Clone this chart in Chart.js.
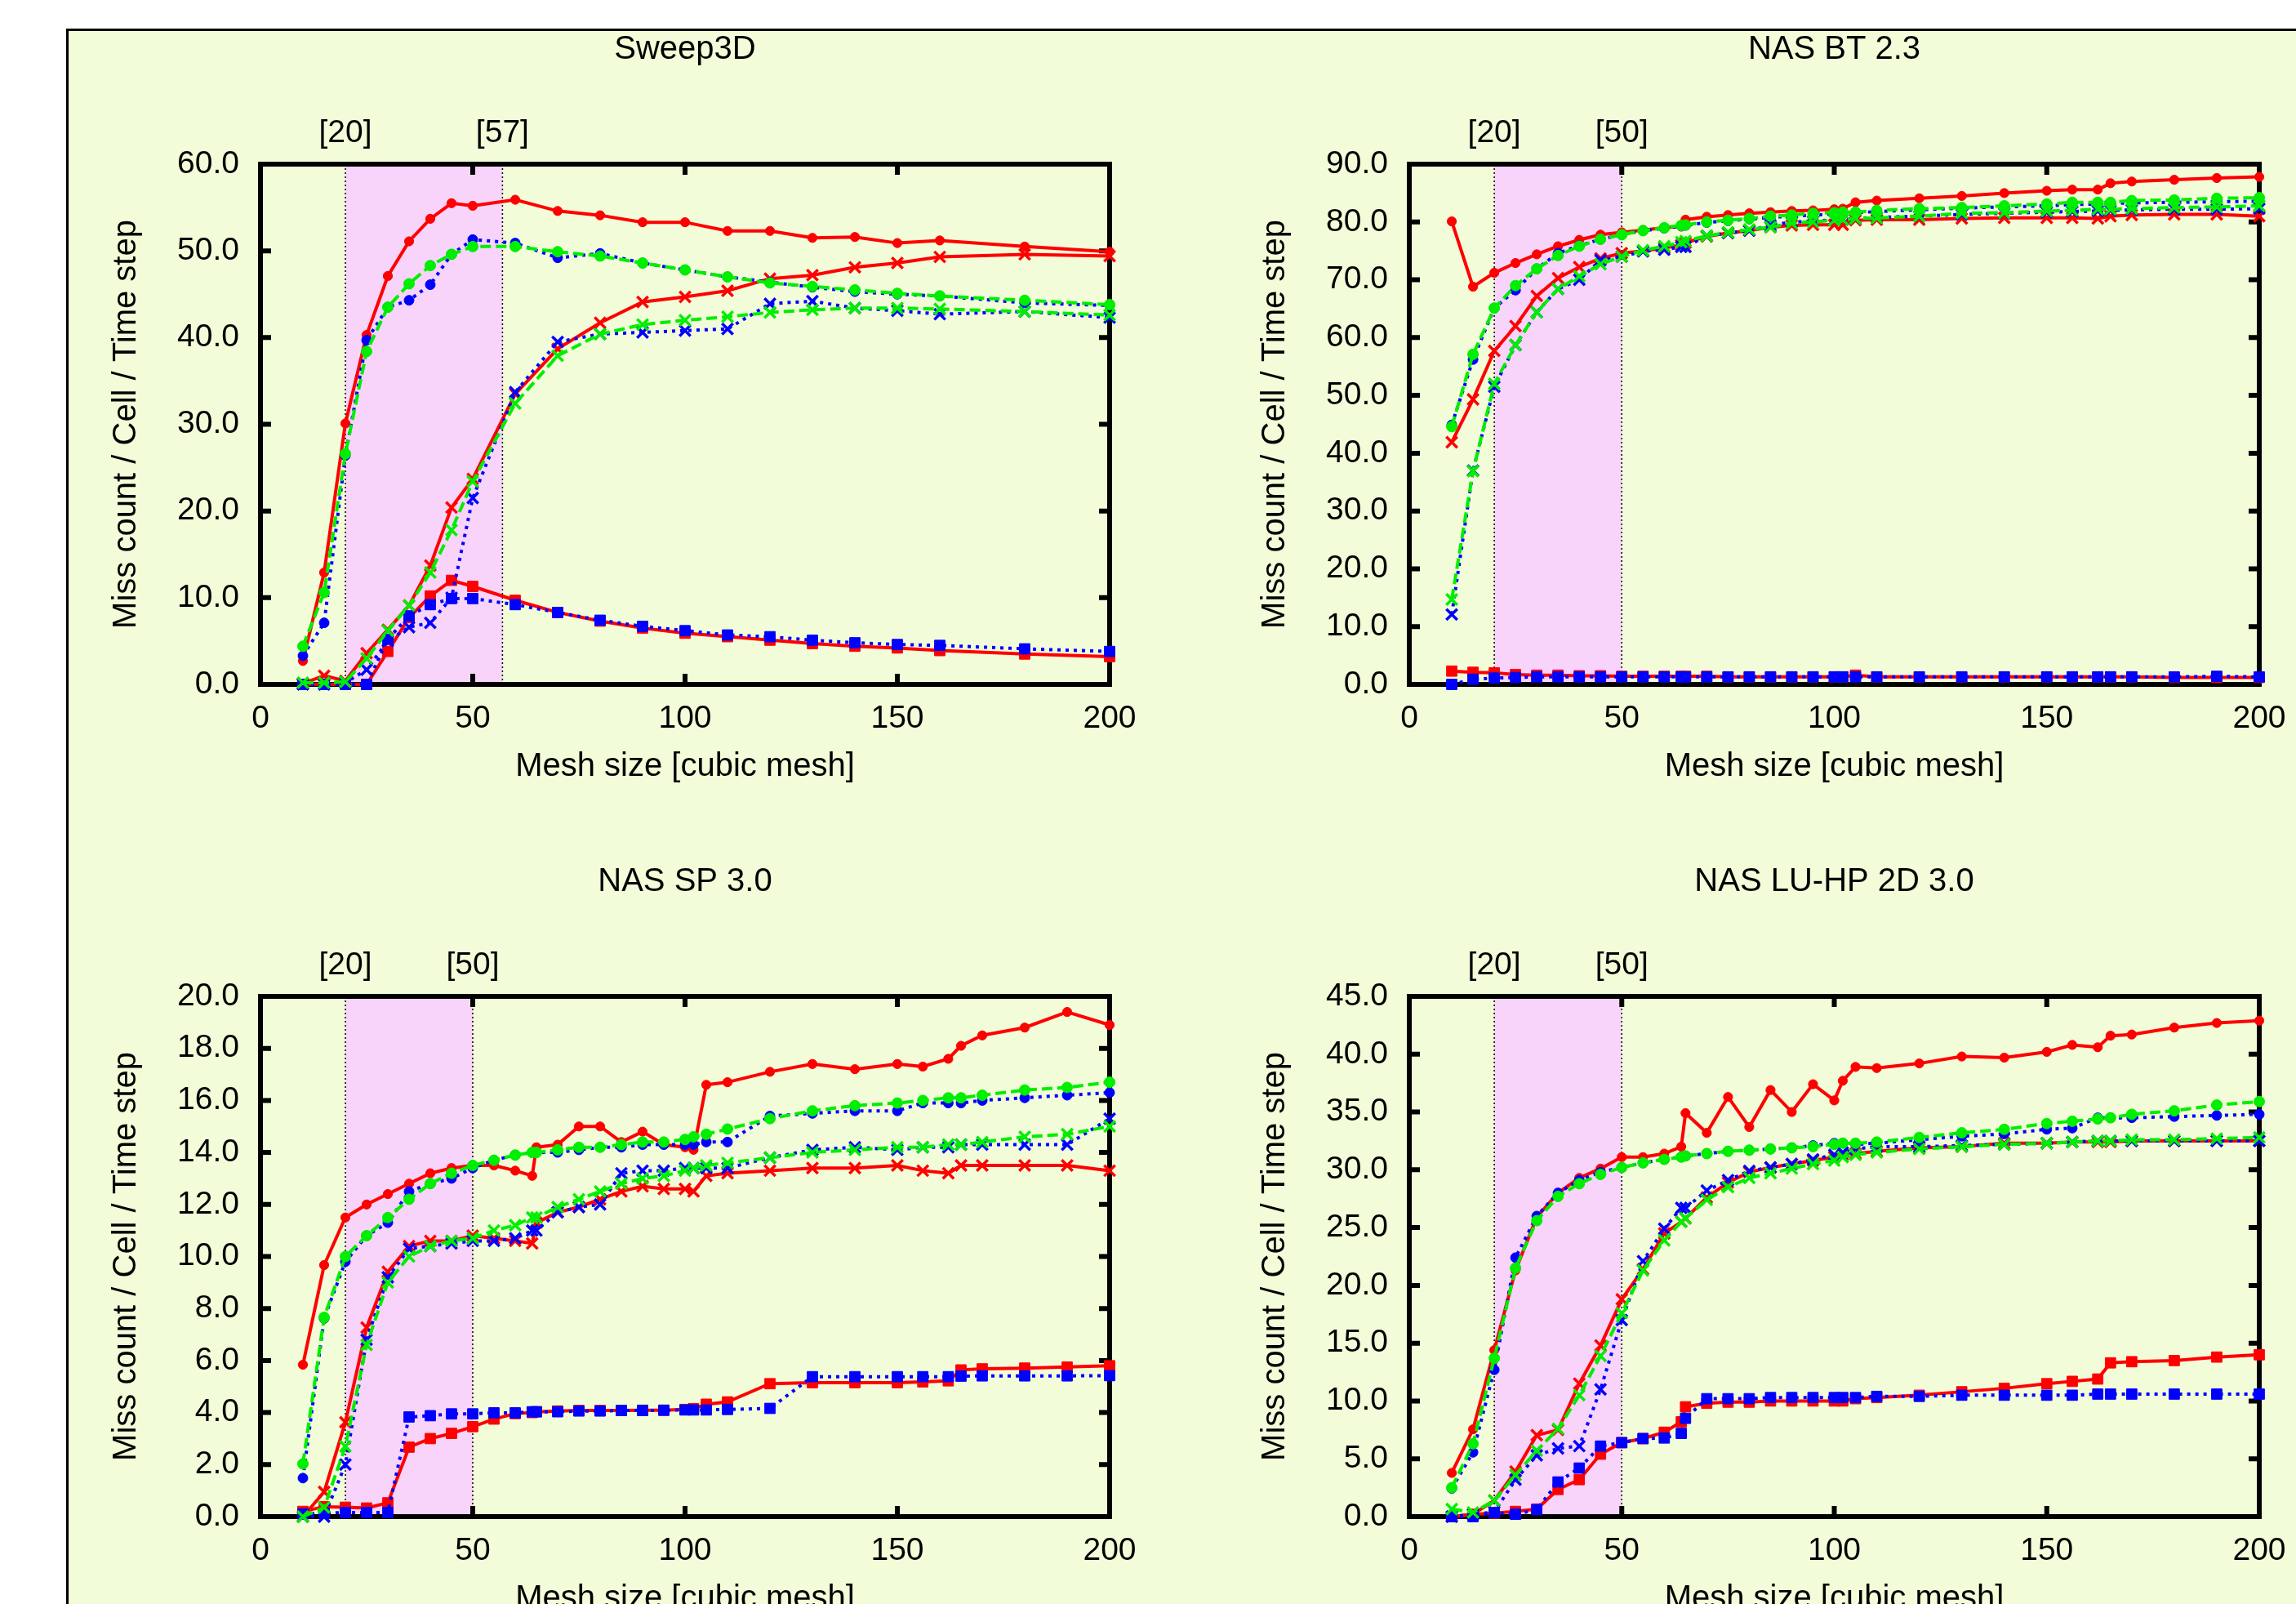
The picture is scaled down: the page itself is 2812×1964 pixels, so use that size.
<!DOCTYPE html>
<html>
<head>
<meta charset="utf-8">
<title>Miss count per cell</title>
<script src="https://cdn.jsdelivr.net/npm/chart.js@4.4.1/dist/chart.umd.min.js"></script>
<style>
  html, body { margin: 0; padding: 0; background: #fff; width: 2812px; height: 1964px; overflow: hidden; }
  #frame { position: absolute; left: 81px; top: 35px; width: 2800px; height: 2000px; background: #f2fcd8; border-left: 3px solid #000; border-top: 3px solid #000; }
  canvas { position: absolute; }
</style>
</head>
<body>
<div id="frame"></div>
<canvas id="sweep" width="1330" height="957" style="left:69px;top:11px"></canvas>
<canvas id="bt" width="1331" height="957" style="left:1476px;top:11px"></canvas>
<canvas id="sp" width="1330" height="957" style="left:69px;top:1030px"></canvas>
<canvas id="lu" width="1331" height="957" style="left:1476px;top:1030px"></canvas>
<script>
// mesh sizes
const sweepX = [10, 15, 20, 25, 30, 35, 40, 45, 50, 60, 70, 80, 90, 100, 110, 120, 130, 140, 150, 160, 180, 200]
const nasX = [10, 15, 20, 25, 30, 35, 40, 45, 50, 55, 60, 64, 65, 70, 75, 80, 85, 90, 95, 100, 102, 105, 110, 120, 130, 140, 150, 156, 162, 165, 170, 180, 190, 200]

// shaded ranges
const sweepBand = [20, 57]
const btBand = [20, 50]
const spBand = [20, 50]
const luBand = [20, 50]

// Sweep3D
const sweepRedDot = [2.7, 12.9, 30.1, 40.3, 47.1, 51.1, 53.7, 55.5, 55.2, 55.9, 54.6, 54.1, 53.3, 53.3, 52.3, 52.3, 51.5, 51.6, 50.9, 51.2, 50.5, 49.9]
const sweepRedCross = [0.1, 1.0, 0.4, 3.6, 6.3, 9.1, 13.7, 20.4, 23.7, 33.5, 38.7, 41.7, 44.1, 44.7, 45.4, 46.8, 47.2, 48.1, 48.6, 49.3, 49.6, 49.4]
const sweepRedSquare = [0.0, 0.0, 0.0, 0.0, 3.8, 7.7, 10.2, 12.0, 11.3, 9.7, 8.3, 7.3, 6.5, 5.9, 5.5, 5.1, 4.7, 4.4, 4.2, 3.9, 3.5, 3.2]
const sweepBlueDot = [3.3, 7.1, 26.4, 39.7, 43.5, 44.3, 46.1, 49.6, 51.3, 50.9, 49.2, 49.7, 48.6, 47.8, 47.0, 46.4, 45.8, 45.3, 45.0, 44.8, 44.0, 43.7]
const sweepBlueCross = [0.0, 0.0, 0.2, 1.7, 5.0, 6.6, 7.1, 10.0, 21.5, 33.7, 39.5, 40.4, 40.6, 40.8, 41.0, 43.9, 44.2, 43.4, 43.1, 42.7, 43.0, 42.3]
const sweepBlueSquare = [0.0, 0.0, 0.0, 0.0, 5.2, 7.9, 9.2, 9.9, 9.9, 9.2, 8.3, 7.4, 6.7, 6.2, 5.7, 5.5, 5.1, 4.8, 4.6, 4.5, 4.1, 3.8]
const sweepGreenDot = [4.4, 10.6, 26.6, 38.4, 43.5, 46.2, 48.3, 49.6, 50.5, 50.5, 49.9, 49.4, 48.6, 47.8, 47.0, 46.3, 45.9, 45.5, 45.1, 44.8, 44.3, 43.8]
const sweepGreenCross = [0.2, 0.2, 0.3, 3.0, 6.2, 9.1, 12.9, 17.8, 23.4, 32.4, 37.9, 40.4, 41.5, 42.0, 42.4, 42.9, 43.2, 43.4, 43.4, 43.3, 43.0, 42.6]

// NAS BT 2.3
const btRedDot = [80.1, 68.8, 71.2, 72.9, 74.4, 75.8, 76.9, 77.8, 78.2, 78.6, 79.0, 79.2, 80.4, 80.9, 81.2, 81.5, 81.7, 81.9, 82.0, 82.2, 82.3, 83.4, 83.7, 84.1, 84.5, 85.0, 85.4, 85.6, 85.6, 86.7, 87.0, 87.3, 87.6, 87.8]
const btRedCross = [41.9, 49.3, 57.7, 62.0, 67.2, 70.3, 72.2, 73.7, 74.6, 75.0, 75.5, 76.0, 76.4, 77.5, 78.1, 78.5, 79.1, 79.4, 79.5, 79.5, 79.5, 80.3, 80.4, 80.4, 80.6, 80.7, 80.7, 80.7, 80.6, 81.0, 81.2, 81.3, 81.3, 81.0]
const btRedSquare = [2.3, 2.1, 2.0, 1.7, 1.6, 1.6, 1.5, 1.5, 1.4, 1.4, 1.4, 1.4, 1.4, 1.4, 1.3, 1.3, 1.3, 1.3, 1.3, 1.3, 1.3, 1.6, 1.3, 1.3, 1.3, 1.3, 1.3, 1.3, 1.3, 1.3, 1.3, 1.2, 1.2, 1.2]
const btBlueDot = [44.9, 56.2, 65.1, 68.2, 71.9, 74.6, 75.9, 77.0, 77.8, 78.5, 78.9, 79.3, 79.4, 79.9, 80.2, 80.5, 80.8, 81.0, 81.2, 81.4, 81.5, 81.6, 81.8, 82.1, 82.4, 82.6, 82.8, 83.0, 83.1, 83.2, 83.3, 83.4, 83.5, 83.6]
const btBlueCross = [12.1, 37.0, 51.5, 58.7, 64.4, 68.4, 70.0, 73.4, 74.0, 74.9, 75.2, 75.7, 75.7, 77.6, 78.1, 78.5, 79.4, 80.0, 80.1, 80.4, 80.4, 80.6, 80.8, 81.0, 81.3, 81.5, 81.7, 81.8, 81.9, 82.0, 82.1, 82.2, 82.2, 82.3]
const btBlueSquare = [0.0, 0.9, 1.1, 1.2, 1.3, 1.3, 1.3, 1.3, 1.3, 1.3, 1.3, 1.3, 1.3, 1.3, 1.3, 1.3, 1.3, 1.3, 1.3, 1.3, 1.3, 1.3, 1.3, 1.3, 1.3, 1.3, 1.3, 1.3, 1.3, 1.3, 1.3, 1.3, 1.4, 1.3]
const btGreenDot = [44.6, 57.1, 65.1, 69.0, 71.9, 74.2, 75.8, 77.0, 77.8, 78.5, 79.0, 79.4, 79.5, 80.0, 80.3, 80.6, 81.0, 81.2, 81.5, 81.6, 81.7, 81.7, 82.0, 82.3, 82.5, 82.8, 83.1, 83.4, 83.4, 83.4, 83.7, 83.8, 84.1, 84.2]
const btGreenCross = [14.7, 36.9, 52.0, 58.7, 64.4, 68.4, 70.6, 72.7, 74.0, 75.1, 75.8, 76.5, 76.7, 77.6, 78.2, 78.7, 79.1, 79.8, 80.0, 80.3, 80.4, 80.6, 80.7, 81.0, 81.5, 81.6, 81.9, 82.0, 82.2, 82.2, 82.3, 82.5, 82.6, 82.8]

// NAS SP 3.0
const spRedDot = [5.84, 9.67, 11.5, 12.0, 12.4, 12.8, 13.2, 13.4, 13.5, 13.5, 13.3, 13.1, 14.2, 14.3, 15.0, 15.0, 14.4, 14.8, 14.3, 14.2, 14.1, 16.6, 16.7, 17.1, 17.4, 17.2, 17.4, 17.3, 17.6, 18.1, 18.5, 18.8, 19.4, 18.9]
const spRedCross = [0.0, 0.95, 3.63, 7.27, 9.41, 10.4, 10.6, 10.6, 10.8, 10.7, 10.6, 10.5, 11.3, 11.7, 11.9, 12.2, 12.5, 12.7, 12.6, 12.6, 12.5, 13.1, 13.2, 13.3, 13.4, 13.4, 13.5, 13.3, 13.2, 13.5, 13.5, 13.5, 13.5, 13.3]
const spRedSquare = [0.2, 0.38, 0.36, 0.33, 0.53, 2.67, 3.0, 3.2, 3.46, 3.75, 3.96, 4.0, 4.03, 4.06, 4.08, 4.08, 4.08, 4.09, 4.09, 4.12, 4.15, 4.32, 4.41, 5.11, 5.15, 5.15, 5.15, 5.18, 5.22, 5.64, 5.68, 5.71, 5.75, 5.8]
const spBlueDot = [1.48, 7.62, 9.8, 10.8, 11.3, 12.5, 12.8, 13.0, 13.4, 13.7, 13.9, 14.0, 14.0, 14.0, 14.1, 14.2, 14.2, 14.3, 14.3, 14.3, 14.3, 14.4, 14.4, 15.4, 15.5, 15.6, 15.6, 15.9, 15.9, 15.9, 16.0, 16.1, 16.2, 16.3]
const spBlueCross = [0.0, 0.0, 2.0, 6.8, 9.2, 10.3, 10.4, 10.5, 10.6, 10.6, 10.7, 11.0, 11.0, 11.7, 11.9, 12.0, 13.2, 13.3, 13.3, 13.4, 13.4, 13.4, 13.4, 13.8, 14.1, 14.2, 14.1, 14.2, 14.2, 14.3, 14.3, 14.3, 14.3, 15.3]
const spBlueSquare = [0.1, 0.13, 0.16, 0.16, 0.16, 3.83, 3.88, 3.95, 3.95, 3.99, 3.99, 4.03, 4.03, 4.03, 4.06, 4.06, 4.08, 4.08, 4.09, 4.1, 4.1, 4.1, 4.12, 4.16, 5.38, 5.38, 5.38, 5.38, 5.38, 5.4, 5.41, 5.41, 5.41, 5.42]
const spGreenDot = [2.03, 7.66, 10.0, 10.8, 11.5, 12.2, 12.8, 13.2, 13.5, 13.7, 13.9, 14.0, 14.0, 14.1, 14.2, 14.2, 14.3, 14.4, 14.4, 14.5, 14.6, 14.7, 14.9, 15.3, 15.6, 15.8, 15.9, 16.0, 16.1, 16.1, 16.2, 16.4, 16.5, 16.7]
const spGreenCross = [0.0, 0.35, 2.7, 6.6, 9.0, 10.0, 10.4, 10.6, 10.7, 11.0, 11.2, 11.5, 11.5, 11.9, 12.2, 12.5, 12.8, 13.0, 13.1, 13.3, 13.4, 13.5, 13.6, 13.8, 14.0, 14.1, 14.2, 14.2, 14.3, 14.3, 14.4, 14.6, 14.7, 15.0]

// NAS LU-HP 2D 3.0
const luRedDot = [3.78, 7.55, 14.4, 21.3, 25.9, 28.0, 29.3, 30.1, 31.1, 31.1, 31.4, 32.0, 34.9, 33.2, 36.3, 33.7, 36.9, 35.0, 37.4, 36.0, 37.7, 38.9, 38.8, 39.2, 39.8, 39.7, 40.2, 40.8, 40.6, 41.6, 41.7, 42.3, 42.7, 42.9]
const luRedCross = [0.0, 0.2, 1.4, 3.9, 7.05, 7.5, 11.5, 14.8, 18.8, 21.4, 24.5, 25.5, 25.8, 27.6, 28.9, 29.8, 30.2, 30.5, 30.8, 31.1, 31.3, 31.4, 31.6, 31.9, 32.0, 32.3, 32.3, 32.4, 32.4, 32.4, 32.5, 32.5, 32.5, 32.5]
const luRedSquare = [0.0, 0.2, 0.3, 0.45, 0.65, 2.35, 3.2, 5.4, 6.4, 6.75, 7.3, 8.2, 9.5, 9.8, 9.9, 9.9, 10.0, 10.0, 10.0, 10.0, 10.0, 10.2, 10.3, 10.5, 10.8, 11.1, 11.5, 11.7, 11.9, 13.3, 13.4, 13.5, 13.8, 14.0]
const luBlueDot = [2.44, 5.56, 12.7, 22.4, 26.0, 28.0, 29.1, 29.8, 30.2, 30.6, 30.9, 31.1, 31.2, 31.4, 31.6, 31.7, 31.8, 31.9, 32.1, 32.3, 32.3, 32.2, 32.3, 32.6, 32.9, 33.1, 33.5, 33.6, 34.5, 34.5, 34.5, 34.6, 34.7, 34.8]
const luBlueCross = [0.0, 0.2, 0.4, 3.2, 5.3, 5.9, 6.1, 11.0, 17.0, 22.1, 24.9, 26.7, 26.7, 28.2, 29.1, 29.9, 30.2, 30.5, 30.9, 31.3, 31.5, 31.8, 32.0, 32.0, 32.1, 32.2, 32.3, 32.4, 32.5, 32.5, 32.5, 32.5, 32.5, 32.5]
const luBlueSquare = [0.0, 0.0, 0.35, 0.2, 0.6, 3.0, 4.2, 6.1, 6.4, 6.75, 6.8, 7.2, 8.5, 10.2, 10.2, 10.2, 10.3, 10.3, 10.3, 10.3, 10.3, 10.3, 10.4, 10.4, 10.5, 10.5, 10.5, 10.5, 10.6, 10.6, 10.6, 10.6, 10.6, 10.6]
const luGreenDot = [2.5, 6.3, 13.7, 21.5, 25.6, 27.7, 28.8, 29.6, 30.2, 30.6, 30.9, 31.1, 31.2, 31.4, 31.6, 31.7, 31.8, 31.9, 32.0, 32.2, 32.3, 32.3, 32.4, 32.8, 33.2, 33.5, 34.0, 34.2, 34.4, 34.5, 34.8, 35.1, 35.6, 35.9]
const luGreenCross = [0.65, 0.36, 1.4, 3.6, 5.7, 7.6, 10.5, 13.9, 17.6, 21.3, 23.9, 25.5, 25.8, 27.4, 28.5, 29.3, 29.7, 30.1, 30.5, 30.8, 31.1, 31.3, 31.5, 31.8, 32.0, 32.2, 32.3, 32.4, 32.5, 32.5, 32.6, 32.6, 32.7, 32.8]

Chart.defaults.font.family = '"Liberation Sans", Arial, Helvetica, sans-serif'
Chart.defaults.color = '#000'

const FONT = '"Liberation Sans", Arial, Helvetica, sans-serif'
const colours = { red: '#ff0000', blue: '#0000ff', green: '#00ee00' }
const dashes = { red: [], blue: [4, 6], green: [13, 6] }
const dotSize = { red: 5.6, blue: 6, green: 6.5 }

function series(xs, ys, colour, marker) {
  const c = colours[colour]
  let style = 'circle', radius = dotSize[colour], width = 1
  if (marker === 'cross') { style = 'crossRot'; radius = 9.5; width = 3.5 }
  if (marker === 'square') { style = 'rect'; radius = 9; width = 1 }
  return {
    data: xs.map((x, i) => ({ x: x, y: ys[i] })),
    borderColor: c,
    backgroundColor: c,
    borderWidth: 4,
    borderDash: dashes[colour],
    pointStyle: style,
    pointRadius: radius,
    pointBorderWidth: width,
    pointBorderColor: c,
    pointBackgroundColor: c,
    tension: 0,
    clip: false
  }
}

// pink band, dotted limits, heavy border with inward ticks and the texts above the plot
const framePlugin = {
  id: 'frame',
  beforeDatasetsDraw(chart, args, opts) {
    const ctx = chart.ctx
    const a = chart.chartArea
    const xs = chart.scales.x
    const ys = chart.scales.y
    const b0 = xs.getPixelForValue(opts.band[0])
    const b1 = xs.getPixelForValue(opts.band[1])
    ctx.save()
    ctx.fillStyle = '#f8d4fa'
    ctx.fillRect(b0, a.top, b1 - b0, a.bottom - a.top)

    ctx.strokeStyle = '#000'
    ctx.lineWidth = 1.5
    ctx.setLineDash([2, 3])
    for (const bx of [b0, b1]) {
      ctx.beginPath()
      ctx.moveTo(bx, a.top)
      ctx.lineTo(bx, a.bottom)
      ctx.stroke()
    }

    ctx.setLineDash([])
    ctx.lineWidth = 6
    ctx.strokeRect(a.left, a.top, a.right - a.left, a.bottom - a.top)

    ctx.beginPath()
    xs.ticks.forEach(t => {
      const px = xs.getPixelForValue(t.value)
      ctx.moveTo(px, a.bottom)
      ctx.lineTo(px, a.bottom - 13)
      ctx.moveTo(px, a.top)
      ctx.lineTo(px, a.top + 13)
    })
    ys.ticks.forEach(t => {
      const py = ys.getPixelForValue(t.value)
      ctx.moveTo(a.left, py)
      ctx.lineTo(a.left + 13, py)
      ctx.moveTo(a.right, py)
      ctx.lineTo(a.right - 13, py)
    })
    ctx.stroke()

    ctx.fillStyle = '#000'
    ctx.textAlign = 'center'
    ctx.textBaseline = 'middle'
    ctx.font = '40px ' + FONT
    ctx.fillText(opts.title, (a.left + a.right) / 2, a.top - 140)
    ctx.font = '39px ' + FONT
    ctx.fillText('[' + opts.band[0] + ']', b0, a.top - 38)
    ctx.fillText('[' + opts.band[1] + ']', b1, a.top - 38)
    ctx.restore()
  }
}

function drawPanel(id, title, band, yMax, yStep, datasets) {
  new Chart(document.getElementById(id), {
    type: 'line',
    data: { datasets: datasets },
    plugins: [framePlugin],
    options: {
      responsive: false,
      animation: false,
      events: [],
      layout: { padding: { left: 0, top: 190, right: 40, bottom: 0 } },
      plugins: {
        legend: { display: false },
        tooltip: { enabled: false },
        frame: { title: title, band: band }
      },
      scales: {
        x: {
          type: 'linear',
          position: 'bottom',
          min: 0,
          max: 200,
          grid: { display: false, drawTicks: false },
          border: { display: false },
          ticks: { stepSize: 50, padding: 19, autoSkip: false, maxRotation: 0, font: { size: 39 } },
          title: { display: true, text: 'Mesh size [cubic mesh]', font: { size: 40 }, padding: { top: 0, bottom: 5 } },
          afterFit: scale => {
            scale.height = 130
            scale.paddingLeft = 0
            scale.paddingRight = 0
          }
        },
        y: {
          type: 'linear',
          position: 'left',
          min: 0,
          max: yMax,
          grid: { display: false, drawTicks: false },
          border: { display: false },
          ticks: { stepSize: yStep, padding: 26, autoSkip: false, font: { size: 39 }, callback: v => v.toFixed(1) },
          title: { display: true, text: 'Miss count / Cell / Time step', font: { size: 40 }, padding: { top: 62, bottom: 0 } },
          afterFit: scale => {
            scale.width = 250
            scale.paddingTop = 0
            scale.paddingBottom = 0
          }
        }
      }
    }
  })
}

// green is drawn on top, red at the bottom
drawPanel('sweep', 'Sweep3D', sweepBand, 60, 10, [
  series(sweepX, sweepGreenDot, 'green', 'dot'),
  series(sweepX, sweepGreenCross, 'green', 'cross'),
  series(sweepX, sweepBlueDot, 'blue', 'dot'),
  series(sweepX, sweepBlueCross, 'blue', 'cross'),
  series(sweepX, sweepBlueSquare, 'blue', 'square'),
  series(sweepX, sweepRedDot, 'red', 'dot'),
  series(sweepX, sweepRedCross, 'red', 'cross'),
  series(sweepX, sweepRedSquare, 'red', 'square')
])

drawPanel('bt', 'NAS BT 2.3', btBand, 90, 10, [
  series(nasX, btGreenDot, 'green', 'dot'),
  series(nasX, btGreenCross, 'green', 'cross'),
  series(nasX, btBlueDot, 'blue', 'dot'),
  series(nasX, btBlueCross, 'blue', 'cross'),
  series(nasX, btBlueSquare, 'blue', 'square'),
  series(nasX, btRedDot, 'red', 'dot'),
  series(nasX, btRedCross, 'red', 'cross'),
  series(nasX, btRedSquare, 'red', 'square')
])

drawPanel('sp', 'NAS SP 3.0', spBand, 20, 2, [
  series(nasX, spGreenDot, 'green', 'dot'),
  series(nasX, spGreenCross, 'green', 'cross'),
  series(nasX, spBlueDot, 'blue', 'dot'),
  series(nasX, spBlueCross, 'blue', 'cross'),
  series(nasX, spBlueSquare, 'blue', 'square'),
  series(nasX, spRedDot, 'red', 'dot'),
  series(nasX, spRedCross, 'red', 'cross'),
  series(nasX, spRedSquare, 'red', 'square')
])

drawPanel('lu', 'NAS LU-HP 2D 3.0', luBand, 45, 5, [
  series(nasX, luGreenDot, 'green', 'dot'),
  series(nasX, luGreenCross, 'green', 'cross'),
  series(nasX, luBlueDot, 'blue', 'dot'),
  series(nasX, luBlueCross, 'blue', 'cross'),
  series(nasX, luBlueSquare, 'blue', 'square'),
  series(nasX, luRedDot, 'red', 'dot'),
  series(nasX, luRedCross, 'red', 'cross'),
  series(nasX, luRedSquare, 'red', 'square')
])
</script>
</body>
</html>
